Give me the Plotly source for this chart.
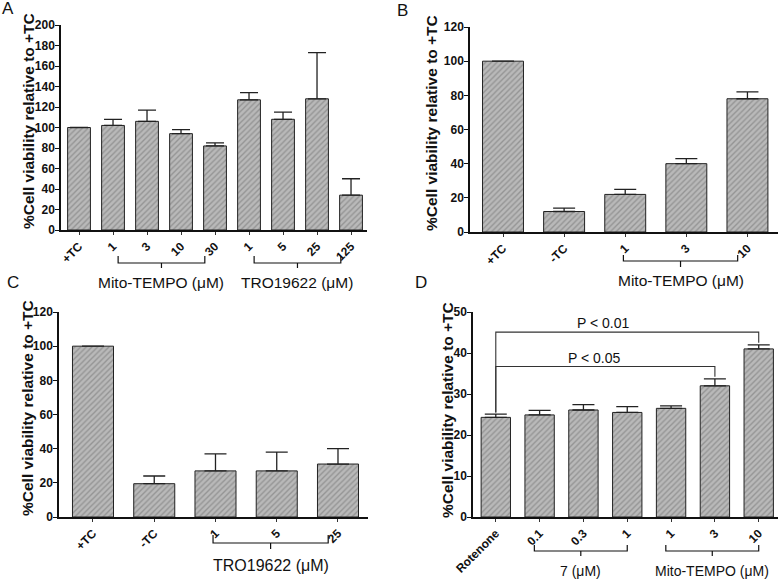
import plotly.graph_objects as go

# ---------------- data ----------------
A_labels = ["+TC", "1", "3", "10", "30", "1", "5", "25", "125"]
A_values = [100, 102, 106, 94, 82, 127, 108, 128, 34]
A_errors = [0, 6, 11, 4, 3, 7, 7, 45, 16]
A_groups = [("Mito-TEMPO (μM)", 1, 4), ("TRO19622 (μM)", 5, 8)]

B_labels = ["+TC", "-TC", "1", "3", "10"]
B_values = [100, 12, 22, 40, 78]
B_errors = [0, 2, 3, 3, 4]
B_groups = [("Mito-TEMPO (μM)", 2, 4)]

C_labels = ["+TC", "-TC", "1", "5", "25"]
C_values = [100, 19.5, 27, 27, 31]
C_errors = [0, 4.5, 10, 11, 9]
C_groups = [("TRO19622 (μM)", 2, 4)]

D_labels = ["Rotenone", "0.1", "0.3", "1", "1", "3", "10"]
D_values = [24.3, 24.9, 26.1, 25.5, 26.5, 32.0, 41.0]
D_errors = [0.8, 1.1, 1.3, 1.4, 0.6, 1.7, 1.0]
D_groups = [("7 (μM)", 1, 3), ("Mito-TEMPO (μM)", 4, 6)]
D_sig = [("P < 0.01", 0, 6), ("P < 0.05", 0, 5)]

Y_TITLE = "%Cell viability relative to +TC"

W, H = 782, 580
FONT = "Liberation Sans, Arial, sans-serif"


def px(x):
    return x / W


def py(y):
    return 1 - y / H


fig = go.Figure()

panels = [
    dict(lab=A_labels, val=A_values, err=A_errors, groups=A_groups,
         xd=(61, 367), yd=(230, 25), xr=(-0.53, 8.47), yr=(0, 200), dt=20, cap=9,
         br=(256, 263, 268, 282), gs=15.5, off=(0.15, -0.3), tt=(28, 121),
         letter=("A", 8, 8)),
    dict(lab=B_labels, val=B_values, err=B_errors, groups=B_groups,
         xd=(470, 778), yd=(232, 27), xr=(-0.54, 4.5), yr=(0, 120), dt=20, cap=11,
         br=(255, 261, 267, 280), gs=15.5, off=(-0.03, -0.16), tt=(431, 123),
         letter=("B", 402, 11)),
    dict(lab=C_labels, val=C_values, err=C_errors, groups=C_groups,
         xd=(59, 368), yd=(517, 312), xr=(-0.555, 4.49), yr=(0, 120), dt=20, cap=11,
         br=(535, 543, 549, 565), gs=16, off=(-0.04, -0.16), tt=(27, 408),
         letter=("C", 13, 283)),
    dict(lab=D_labels, val=D_values, err=D_errors, groups=D_groups,
         xd=(473, 778), yd=(517, 312), xr=(-0.52, 6.44), yr=(0, 50), dt=10, cap=11,
         br=(545, 551, 556, 571), gs=14, off=(-0.12, 0.0), tt=(447, 410),
         letter=("D", 421, 282)),
]

tickfont = dict(family=FONT, size=12, color="#111", weight="bold")

shapes = []
annotations = []
for i, p in enumerate(panels, start=1):
    xa = "x" if i == 1 else f"x{i}"
    ya = "y" if i == 1 else f"y{i}"
    xs = list(range(len(p["lab"])))
    fig.add_trace(go.Bar(
        x=xs, y=p["val"], xaxis=xa, yaxis=ya, width=0.67,
        marker=dict(color="#b9b9b9",
                    line=dict(color="#222", width=1),
                    pattern=dict(shape="/", fgcolor="#707070", size=4,
                                 solidity=0.35, fillmode="overlay")),
        error_y=dict(type="data", symmetric=False, array=p["err"],
                     arrayminus=[0] * len(p["err"]), color="#222",
                     thickness=1.3, width=p["cap"]),
        showlegend=False, hoverinfo="skip",
    ))
    axkey = "xaxis" if i == 1 else f"xaxis{i}"
    aykey = "yaxis" if i == 1 else f"yaxis{i}"
    fig.update_layout(**{
        axkey: dict(domain=[px(p["xd"][0]), px(p["xd"][1])], anchor=ya,
                    range=list(p["xr"]), tickvals=xs, ticktext=p["lab"],
                    tickangle=-45, ticks="outside", ticklen=3, tickwidth=1,
                    tickcolor="#333", showline=True, linecolor="#111",
                    linewidth=1.5, showgrid=False, zeroline=False,
                    automargin=False,
                    fixedrange=True, tickfont=tickfont),
        aykey: dict(domain=[py(p["yd"][0]), py(p["yd"][1])], anchor=xa,
                    range=list(p["yr"]), dtick=p["dt"], tick0=0,
                    ticks="outside", ticklen=4, tickwidth=1.2,
                    tickcolor="#111", showline=True, linecolor="#111",
                    linewidth=1.5, showgrid=False, zeroline=False,
                    ticklabelstandoff=-2, automargin=False,
                    fixedrange=True, tickfont=tickfont),
    })

    # group brackets under the axis
    ytop, yh, ybot, ylab = [py(v) for v in p["br"]]
    for name, g0, g1 in p["groups"]:
        x0 = g0 + p["off"][0]
        x1 = g1 + p["off"][1]
        xm = (x0 + x1) / 2
        shapes.append(dict(type="path", xref=xa, yref="paper",
                           path=f"M {x0},{ytop} L {x0},{yh} L {x1},{yh} L {x1},{ytop} "
                                f"M {xm},{yh} L {xm},{ybot}",
                           line=dict(color="#111", width=1.2)))
        annotations.append(dict(x=xm, y=ylab, xref=xa, yref="paper",
                                text=name, showarrow=False,
                                xanchor="center", yanchor="middle",
                                font=dict(family=FONT, size=p["gs"], color="#111")))

    # y title
    annotations.append(dict(x=px(p["tt"][0]), y=py(p["tt"][1]), xref="paper",
                            yref="paper", text=Y_TITLE,
                            textangle=-90, showarrow=False,
                            xanchor="center", yanchor="middle",
                            font=dict(family=FONT, size=15.5, color="#111",
                                      weight="bold")))
    # panel letter
    L, lx, ly = p["letter"]
    annotations.append(dict(x=px(lx), y=py(ly), xref="paper", yref="paper",
                            text=L, showarrow=False, xanchor="center",
                            yanchor="middle",
                            font=dict(family=FONT, size=17, color="#111")))

# significance brackets on panel D
sig_heights = [45.1, 36.7]
for (txt, s0, s1), hgt in zip(D_sig, sig_heights):
    top0 = D_values[s0] + D_errors[s0] + 0.4
    top1 = D_values[s1] + D_errors[s1] + 0.5
    shapes.append(dict(type="path", xref="x4", yref="y4",
                       path=f"M {s0},{top0} L {s0},{hgt} L {s1},{hgt} L {s1},{top1}",
                       line=dict(color="#333", width=1.1)))
    annotations.append(dict(x=(s0 + s1) / 2 - 0.55 + (0.3 if s1 == 5 else 0),
                            y=hgt, xref="x4", yref="y4", text=txt,
                            showarrow=False, xanchor="center", yanchor="bottom",
                            yshift=-1,
                            font=dict(family=FONT, size=14, color="#111")))

fig.update_layout(width=W, height=H, margin=dict(l=0, r=0, t=0, b=0, pad=0),
                  autosize=False,
                  paper_bgcolor="white", plot_bgcolor="white",
                  shapes=shapes, annotations=annotations, bargap=0.33,
                  font=dict(family=FONT, color="#111"))

post = ("document.documentElement.style.margin='0';"
        "document.body.style.margin='0';document.body.style.padding='0';"
        "document.body.style.overflow='hidden';"
        "var g=document.querySelector('.plotly-graph-div');"
        "g.style.position='absolute';g.style.left='0px';g.style.top='0px';")

fig.write_html("out.html", include_plotlyjs=True, full_html=True,
               config={"displayModeBar": False}, post_script=post)
